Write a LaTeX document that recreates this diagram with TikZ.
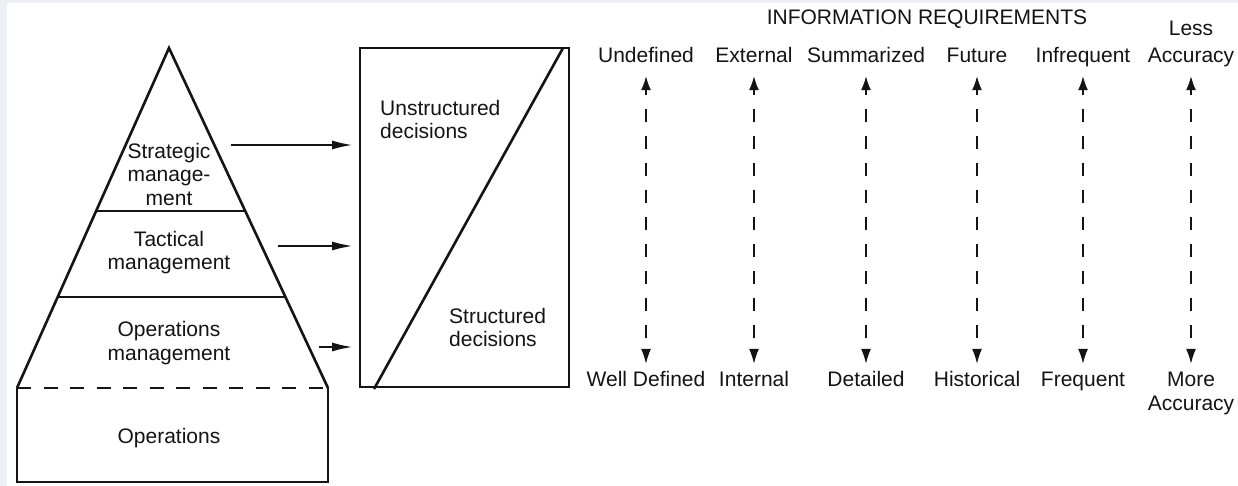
\documentclass[tikz,border=0pt]{standalone}
\usepackage{fontspec}
\setmainfont{Liberation Sans}
\usetikzlibrary{arrows.meta,calc}
\definecolor{bgray}{RGB}{236,240,244}
\definecolor{ink}{RGB}{20,20,20}
\begin{document}
\begin{tikzpicture}[x=1pt,y=-1pt,
  font=\fontsize{21}{23.5}\selectfont,
  every node/.style={text=ink},
  thickline/.style={line width=2.6pt, draw=ink, line join=miter},
  harrow/.style={line width=1.3pt, draw=ink, -{Latex[length=20pt,width=9pt]}},
  varrow/.style={line width=1.3pt, draw=ink, {Latex[length=14pt,width=10pt]}-{Latex[length=15pt,width=10pt]},
                 dash pattern=on 13pt off 14pt, dash phase=8pt, shorten <=8pt, shorten >=7pt},
  lbl/.style={inner sep=0pt, text height=15pt, text depth=5pt, anchor=base},
  blk/.style={inner sep=0pt, align=center}
]
\useasboundingbox (0,0) rectangle (1238,486);
\fill[bgray] (0,0) rectangle (1238,486);
\fill[white] (7,3) rectangle (1238,486);

% pyramid
\coordinate (apex) at (169,48);
\coordinate (bl) at (17,388);
\coordinate (br) at (328,388);
\coordinate (bbl) at (17,482);
\coordinate (bbr) at (328,482);
\draw[thickline] (bl) -- (apex) -- (br);
\draw[thickline] ($(apex)!0.4794!(bl)$) -- ($(apex)!0.4794!(br)$);
\draw[thickline] ($(apex)!0.7324!(bl)$) -- ($(apex)!0.7324!(br)$);
\draw[thickline] (bl) -- (bbl) -- (bbr) -- (br);
\draw[thickline, dash pattern=on 14pt off 12.5pt, line cap=butt] (bl) -- (br);

\node[blk] (sm) at (169,174) {Strategic\\manage-\\ment};
\node[blk] (tm) at (169,252.5) {Tactical\\management};
\node[blk] (om) at (169,343) {Operations\\management};
\node[inner sep=0pt, anchor=base] (op) at (169,443) {Operations};

% decisions box
\node[draw=ink, line width=2.6pt, inner sep=0pt, outer sep=0pt,
      minimum width=209pt, minimum height=339pt] (dbox) at (464.5,217.5) {};
\draw[thickline] ($(dbox.north east)+(-6,0)$) -- ($(dbox.south west)+(14,2)$);
\node[blk, align=left, anchor=north west] (ud) at (380,100) {Unstructured\\decisions};
\node[blk, align=left, anchor=north west] (sd) at (449,308) {Structured\\decisions};

% horizontal arrows
\coordinate (s1) at (231,145);
\coordinate (s2) at (278,246);
\coordinate (s3) at (319,347);
\draw[harrow, shorten >=8pt] (s1) -- (s1 -| dbox.west);
\draw[harrow, shorten >=8pt] (s2) -- (s2 -| dbox.west);
\draw[harrow, shorten >=8pt] (s3) -- (s3 -| dbox.west);

% information requirements
\node[inner sep=0pt, anchor=base] (ir) at (927,25) {INFORMATION REQUIREMENTS};
\node[lbl] (t1) at (646,63) {Undefined};
\node[lbl] (t2) at (754,63) {External};
\node[lbl] (t3) at (866,63) {Summarized};
\node[lbl] (t4) at (977,63) {Future};
\node[lbl] (t5) at (1083,63) {Infrequent};
\node[lbl] (t6) at (1191,63) {Accuracy};
\node[inner sep=0pt, anchor=base] (less) at (1191,36) {Less};

\node[lbl] (b1) at (646,386) {Well Defined};
\node[lbl] (b2) at (754,386) {Internal};
\node[lbl] (b3) at (866,386) {Detailed};
\node[lbl] (b4) at (977,386) {Historical};
\node[lbl] (b5) at (1083,386) {Frequent};
\node[lbl] (b6) at (1191,386) {More};
\node[inner sep=0pt, anchor=base] (acc) at (1191,410) {Accuracy};

\foreach \i in {1,...,6}{
  \draw[varrow] (t\i.south) -- (t\i.south |- b\i.north);
}
\end{tikzpicture}
\end{document}
